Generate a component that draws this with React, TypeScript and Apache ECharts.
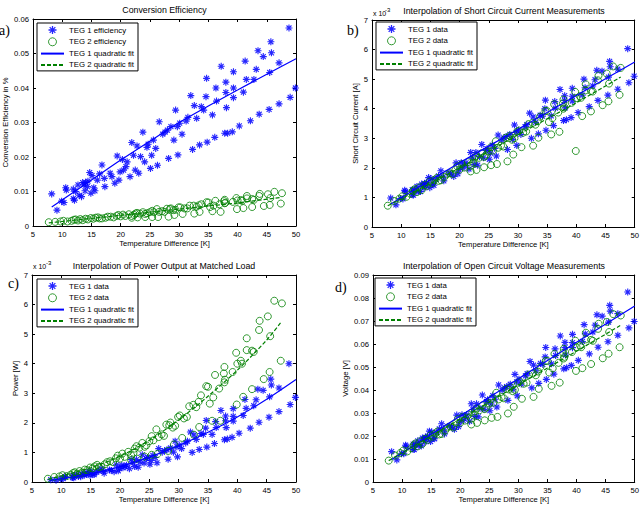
import React, { useEffect, useRef } from 'react';
import * as echarts from 'echarts';

// ---------- TEG 1 measurements ----------
const teg1Temp = [
  8.2, 9.1, 9.9, 10.3, 10.6, 10.7, 11.9, 11.9, 12.1, 12.3,
  12.7, 12.9, 13.3, 13.5, 13.7, 13.9, 14.0, 14.3, 14.4, 14.7,
  14.9, 15.1, 15.4, 15.6, 16.0, 16.4, 16.8, 17.2, 17.3, 18.2,
  18.5, 19.0, 19.4, 19.7, 19.9, 20.3, 20.5, 20.9, 21.1, 21.6,
  21.9, 22.2, 22.5, 22.8, 23.1, 23.4, 23.8, 24.1, 24.5, 24.7,
  25.1, 25.3, 25.6, 26.0, 26.3, 26.6, 27.2, 27.6, 28.0, 28.2,
  28.6, 29.1, 29.4, 29.7, 29.8, 30.1, 30.5, 31.2, 31.5, 32.0,
  32.3, 32.6, 33.0, 33.5, 33.8, 34.2, 34.6, 34.7, 34.8, 35.7,
  36.1, 36.3, 36.4, 37.2, 37.8, 38.0, 38.0, 38.1, 38.3, 39.1,
  39.3, 39.3, 39.3, 40.3, 41.0, 41.3, 41.5, 42.2, 42.8, 43.2,
  43.5, 43.7, 44.4, 45.4, 45.5, 45.7, 45.8, 47.1, 47.1, 48.8, 49.0, 49.9,
];
const teg1Eff = [
  0.0093, 0.0046, 0.0072, 0.0068, 0.0111, 0.0104, 0.0079, 0.0107, 0.0075, 0.0100,
  0.0119, 0.0089, 0.0085, 0.0126, 0.0119, 0.0102, 0.0126, 0.0114, 0.0130, 0.0155,
  0.0095, 0.0146, 0.0111, 0.0102, 0.0133, 0.0151, 0.0177, 0.0138, 0.0114, 0.0153,
  0.0143, 0.0124, 0.0203, 0.0133, 0.0157, 0.0193, 0.0162, 0.0172, 0.0186, 0.0143,
  0.0242, 0.0205, 0.0162, 0.0232, 0.0153, 0.0201, 0.0272, 0.0186, 0.0228, 0.0237,
  0.0167, 0.0205, 0.0249, 0.0225, 0.0176, 0.0302, 0.0266, 0.0272, 0.0278, 0.0196,
  0.0288, 0.0249, 0.0336, 0.0288, 0.0206, 0.0298, 0.0266, 0.0304, 0.0315, 0.0378,
  0.0222, 0.0349, 0.0312, 0.0235, 0.0346, 0.0336, 0.0375, 0.0428, 0.0243, 0.0322,
  0.0257, 0.0400, 0.0362, 0.0463, 0.0269, 0.0417, 0.0387, 0.0343, 0.0269, 0.0273,
  0.0400, 0.0372, 0.0447, 0.0290, 0.0388, 0.0478, 0.0425, 0.0305, 0.0425, 0.0454,
  0.0508, 0.0324, 0.0491, 0.0338, 0.0445, 0.0534, 0.0502, 0.0473, 0.0354, 0.0574, 0.0373, 0.0400,
];
const teg1Isc = [
  0.98, 0.75, 0.96, 0.95, 1.24, 1.20, 1.09, 1.26, 1.08, 1.24,
  1.37, 1.20, 1.20, 1.45, 1.41, 1.32, 1.47, 1.41, 1.51, 1.67,
  1.33, 1.64, 1.45, 1.41, 1.61, 1.73, 1.90, 1.70, 1.56, 1.83,
  1.79, 1.71, 2.17, 1.80, 1.94, 2.17, 2.00, 2.08, 2.17, 1.96,
  2.52, 2.33, 2.11, 2.52, 2.09, 2.38, 2.79, 2.34, 2.59, 2.65,
  2.29, 2.50, 2.77, 2.66, 2.40, 3.11, 2.94, 3.01, 3.06, 2.62,
  3.13, 2.96, 3.45, 3.20, 2.76, 3.28, 3.13, 3.39, 3.46, 3.85,
  3.00, 3.72, 3.54, 3.15, 3.78, 3.75, 4.00, 4.29, 3.27, 3.76,
  3.43, 4.24, 4.02, 4.65, 3.60, 4.44, 4.28, 4.03, 3.63, 3.70,
  4.42, 4.26, 4.69, 3.87, 4.46, 5.00, 4.71, 4.07, 4.77, 4.98,
  5.30, 4.28, 5.27, 4.46, 5.07, 5.60, 5.42, 5.34, 4.66, 6.03, 4.88, 5.10,
];
const teg1Pow = [
  0.08, 0.06, 0.10, 0.11, 0.18, 0.17, 0.15, 0.21, 0.14, 0.20,
  0.25, 0.19, 0.18, 0.27, 0.26, 0.23, 0.28, 0.26, 0.30, 0.36,
  0.22, 0.34, 0.26, 0.25, 0.33, 0.38, 0.45, 0.36, 0.30, 0.41,
  0.39, 0.35, 0.58, 0.38, 0.46, 0.57, 0.48, 0.52, 0.57, 0.45,
  0.76, 0.65, 0.52, 0.76, 0.50, 0.67, 0.92, 0.64, 0.79, 0.83,
  0.60, 0.73, 0.90, 0.83, 0.65, 1.13, 1.01, 1.06, 1.09, 0.77,
  1.15, 1.01, 1.38, 1.19, 0.85, 1.25, 1.13, 1.32, 1.38, 1.69,
  1.00, 1.59, 1.44, 1.10, 1.64, 1.61, 1.82, 2.08, 1.18, 1.61,
  1.30, 2.04, 1.84, 2.42, 1.43, 2.23, 2.07, 1.84, 1.45, 1.51,
  2.22, 2.06, 2.48, 1.65, 2.25, 2.79, 2.49, 1.82, 2.58, 2.78,
  3.14, 2.02, 3.10, 2.19, 2.88, 3.48, 3.28, 3.18, 2.38, 4.00, 2.62, 2.86,
];
const teg1Voc = [
  0.0132, 0.0096, 0.0123, 0.0123, 0.0160, 0.0155, 0.0142, 0.0165, 0.0141, 0.0162,
  0.0179, 0.0158, 0.0157, 0.0191, 0.0186, 0.0174, 0.0194, 0.0187, 0.0200, 0.0221,
  0.0176, 0.0217, 0.0192, 0.0188, 0.0214, 0.0231, 0.0253, 0.0227, 0.0209, 0.0245,
  0.0239, 0.0229, 0.0291, 0.0241, 0.0261, 0.0292, 0.0268, 0.0280, 0.0292, 0.0264,
  0.0340, 0.0315, 0.0285, 0.0340, 0.0283, 0.0321, 0.0378, 0.0316, 0.0350, 0.0358,
  0.0310, 0.0339, 0.0375, 0.0360, 0.0326, 0.0422, 0.0399, 0.0409, 0.0415, 0.0355,
  0.0425, 0.0403, 0.0468, 0.0435, 0.0375, 0.0447, 0.0426, 0.0461, 0.0471, 0.0524,
  0.0409, 0.0508, 0.0483, 0.0429, 0.0516, 0.0511, 0.0544, 0.0585, 0.0446, 0.0514,
  0.0469, 0.0579, 0.0550, 0.0635, 0.0492, 0.0607, 0.0584, 0.0552, 0.0497, 0.0507,
  0.0606, 0.0584, 0.0642, 0.0529, 0.0611, 0.0684, 0.0644, 0.0557, 0.0652, 0.0682,
  0.0727, 0.0586, 0.0721, 0.0610, 0.0695, 0.0768, 0.0743, 0.0732, 0.0638, 0.0826, 0.0670, 0.0698,
];

// ---------- TEG 2 measurements ----------
const teg2Temp = [
  7.7, 8.8, 9.7, 10.2, 10.9, 11.6, 12.0, 12.3, 12.7, 13.1,
  13.5, 14.0, 14.4, 14.9, 15.3, 15.7, 16.1, 16.4, 16.8, 17.4,
  17.8, 18.3, 18.8, 19.3, 19.6, 20.0, 20.4, 20.8, 21.4, 21.9,
  22.3, 22.5, 22.8, 23.3, 23.8, 24.2, 24.5, 25.0, 25.4, 25.7,
  26.2, 26.6, 27.1, 27.5, 27.9, 28.4, 28.6, 29.0, 29.4, 29.9,
  30.2, 30.6, 30.9, 31.4, 31.8, 32.5, 33.0, 33.4, 33.5, 33.8,
  34.7, 35.0, 35.3, 35.9, 36.2, 36.9, 37.1, 37.7, 37.8, 37.8,
  37.9, 39.2, 39.8, 39.9, 40.0, 40.6, 40.8, 41.0, 41.6, 41.6,
  42.5, 42.8, 42.5, 43.8, 43.7, 44.5, 45.2, 45.5, 45.6, 46.3, 47.6, 47.4,
  21.9, 22.9, 24.2, 25.4, 26.4, 28.2, 29.2, 32.6, 35.7,
];
const teg2Eff = [
  0.0011, 0.0012, 0.0013, 0.0015, 0.0013, 0.0015, 0.0018, 0.0019, 0.0016, 0.0020,
  0.0017, 0.0021, 0.0019, 0.0023, 0.0021, 0.0024, 0.0025, 0.0022, 0.0022, 0.0024,
  0.0027, 0.0027, 0.0025, 0.0029, 0.0032, 0.0028, 0.0033, 0.0029, 0.0034, 0.0029,
  0.0032, 0.0036, 0.0038, 0.0036, 0.0040, 0.0035, 0.0037, 0.0040, 0.0044, 0.0040,
  0.0049, 0.0041, 0.0043, 0.0041, 0.0050, 0.0049, 0.0051, 0.0046, 0.0047, 0.0054,
  0.0054, 0.0035, 0.0051, 0.0051, 0.0059, 0.0059, 0.0056, 0.0060, 0.0041, 0.0063,
  0.0069, 0.0068, 0.0055, 0.0059, 0.0073, 0.0063, 0.0041, 0.0072, 0.0076, 0.0066,
  0.0067, 0.0070, 0.0081, 0.0049, 0.0074, 0.0075, 0.0073, 0.0052, 0.0087, 0.0080,
  0.0078, 0.0076, 0.0055, 0.0093, 0.0087, 0.0058, 0.0092, 0.0061, 0.0081, 0.0099, 0.0095, 0.0065,
  0.0024, 0.0025, 0.0026, 0.0026, 0.0026, 0.0027, 0.0032, 0.0036, 0.0043,
];
const teg2Isc = [
  0.72, 0.88, 0.96, 1.04, 1.02, 1.12, 1.22, 1.28, 1.18, 1.34,
  1.25, 1.42, 1.39, 1.54, 1.49, 1.59, 1.66, 1.56, 1.58, 1.69,
  1.78, 1.82, 1.79, 1.94, 2.05, 1.94, 2.13, 2.01, 2.19, 2.07,
  2.17, 2.31, 2.39, 2.34, 2.50, 2.37, 2.42, 2.56, 2.70, 2.58,
  2.90, 2.68, 2.75, 2.72, 3.02, 3.01, 3.08, 2.95, 3.00, 3.23,
  3.26, 2.70, 3.19, 3.23, 3.48, 3.52, 3.46, 3.58, 3.02, 3.73,
  3.93, 3.92, 3.55, 3.68, 4.15, 3.87, 3.22, 4.18, 4.31, 4.00,
  4.05, 4.20, 4.57, 2.57, 4.36, 4.42, 4.37, 3.75, 4.83, 4.62,
  4.60, 4.58, 3.91, 5.12, 4.96, 4.12, 5.19, 4.25, 4.85, 5.43, 5.38, 4.47,
  1.88, 1.93, 2.02, 2.09, 2.13, 2.22, 2.45, 2.75, 3.13,
];
const teg2Pow = [
  0.11, 0.17, 0.19, 0.23, 0.20, 0.25, 0.30, 0.33, 0.28, 0.37,
  0.32, 0.42, 0.40, 0.49, 0.46, 0.53, 0.58, 0.51, 0.52, 0.60,
  0.67, 0.70, 0.67, 0.80, 0.89, 0.79, 0.96, 0.85, 1.02, 0.90,
  0.99, 1.13, 1.21, 1.16, 1.32, 1.19, 1.24, 1.38, 1.55, 1.41,
  1.78, 1.52, 1.61, 1.56, 1.94, 1.92, 2.01, 1.84, 1.90, 2.20,
  2.25, 1.49, 2.15, 2.20, 2.56, 2.61, 2.53, 2.71, 1.86, 2.93,
  3.24, 3.22, 2.65, 2.86, 3.62, 3.16, 2.07, 3.67, 3.89, 3.37,
  3.46, 3.72, 4.37, 2.62, 4.00, 4.10, 4.00, 2.88, 4.86, 4.46,
  4.44, 4.40, 3.14, 5.45, 5.14, 3.48, 5.60, 3.72, 4.93, 6.13, 6.04, 4.10,
  0.74, 0.79, 0.86, 0.92, 0.95, 1.05, 1.27, 1.60, 2.07,
];
const teg2Voc = [
  0.0093, 0.0115, 0.0126, 0.0137, 0.0133, 0.0147, 0.0160, 0.0168, 0.0155, 0.0177,
  0.0166, 0.0188, 0.0183, 0.0203, 0.0197, 0.0211, 0.0220, 0.0207, 0.0209, 0.0224,
  0.0237, 0.0242, 0.0237, 0.0259, 0.0273, 0.0258, 0.0283, 0.0267, 0.0292, 0.0275,
  0.0289, 0.0308, 0.0319, 0.0312, 0.0333, 0.0317, 0.0324, 0.0341, 0.0361, 0.0345,
  0.0388, 0.0359, 0.0369, 0.0364, 0.0405, 0.0402, 0.0412, 0.0395, 0.0401, 0.0432,
  0.0437, 0.0362, 0.0427, 0.0432, 0.0467, 0.0472, 0.0464, 0.0480, 0.0405, 0.0500,
  0.0527, 0.0526, 0.0476, 0.0494, 0.0557, 0.0518, 0.0432, 0.0561, 0.0579, 0.0537,
  0.0544, 0.0565, 0.0614, 0.0483, 0.0586, 0.0593, 0.0586, 0.0495, 0.0649, 0.0620,
  0.0618, 0.0614, 0.0513, 0.0688, 0.0666, 0.0538, 0.0696, 0.0558, 0.0652, 0.0730, 0.0724, 0.0586,
  0.0250, 0.0257, 0.0268, 0.0279, 0.0283, 0.0298, 0.0327, 0.0370, 0.0418,
];

// ---------- Quadratic fit curves ----------
const fitEff1Temp = [8.2, 15, 20, 25, 30, 35, 40, 45, 50];
const fitEff1 = [0.0055, 0.0133, 0.0191, 0.0246, 0.03, 0.0348, 0.0394, 0.044, 0.0485];
const fitEff2Temp = [7.7, 20, 30, 40, 47.5];
const fitEff2 = [0.0009, 0.0031, 0.0049, 0.0067, 0.0083];

const fitIsc1Temp = [8.2, 20, 30, 40, 50];
const fitIsc1 = [0.78, 2.17, 3.3, 4.45, 5.58];
const fitIsc2Temp = [7.7, 20, 30, 40, 47.6];
const fitIsc2 = [0.72, 2.0, 3.12, 4.2, 5.07];

const fitPow1Temp = [8, 15, 20, 25, 30, 35, 40, 45, 50];
const fitPow1 = [0.05, 0.28, 0.52, 0.84, 1.23, 1.68, 2.2, 2.8, 3.47];
const fitPow2Temp = [7.7, 15, 20, 25, 30, 35, 40, 45, 47.5];
const fitPow2 = [0.09, 0.48, 0.87, 1.41, 2.1, 2.9, 3.78, 4.8, 5.42];

const fitVoc1Temp = [8.2, 20, 30, 40, 50];
const fitVoc1 = [0.0098, 0.0287, 0.0449, 0.0608, 0.0765];
const fitVoc2Temp = [7.7, 20, 30, 40, 47.5];
const fitVoc2 = [0.0093, 0.0274, 0.0422, 0.0569, 0.068];

const xTickMin = 5;
const xTickMax = 50;
const xTickStep = 5;

const FONT = '"Liberation Sans", Arial, Helvetica, sans-serif';
const SERIF = '"Liberation Serif", "Times New Roman", serif';
const BLUE = '#0000ff';
const GREEN = '#008000';
const ASTERISK =
  'path://M0 4.2L10 4.2L10 5.8L0 5.8Z M4.2 0L5.8 0L5.8 10L4.2 10Z M2.03 0.89L9.11 7.97L7.97 9.11L0.89 2.03Z M7.97 0.89L9.11 2.03L2.03 9.11L0.89 7.97Z';

const zip = (xs: number[], ys: number[]) => xs.map((x, i) => [x, ys[i]]);

const panels = [
  {
    grid: { left: 33, top: 19, width: 263, height: 207 },
    title: 'Conversion Efficiency', titleX: 164.5, titleTop: 5,
    yMax: 0.06, yStep: 0.01, yName: 'Conversion Efficiency in %', yGap: 24, xGap: 13.5,
    n1: 'TEG 1 efficiency', n2: 'TEG 2 efficiency',
    d1: zip(teg1Temp, teg1Eff), d2: zip(teg2Temp, teg2Eff),
    f1: zip(fitEff1Temp, fitEff1), f2: zip(fitEff2Temp, fitEff2),
    legend: { left: 37, top: 23 },
  },
  {
    grid: { left: 372, top: 20, width: 263, height: 207 },
    title: 'Interpolation of Short Circuit Current Measurements', titleX: 504, titleTop: 6,
    yMax: 7, yStep: 1, yName: 'Short Circuit Current [A]', yGap: 13, xGap: 13.5,
    n1: 'TEG 1 data', n2: 'TEG 2 data',
    d1: zip(teg1Temp, teg1Isc), d2: zip(teg2Temp, teg2Isc),
    f1: zip(fitIsc1Temp, fitIsc1), f2: zip(fitIsc2Temp, fitIsc2),
    legend: { left: 376, top: 22 },
  },
  {
    grid: { left: 32, top: 275, width: 264, height: 207 },
    title: 'Interpolation of Power Output at Matched Load', titleX: 164, titleTop: 261,
    yMax: 7, yStep: 1, yName: 'Power [W]', yGap: 13, xGap: 13,
    n1: 'TEG 1 data', n2: 'TEG 2 data',
    d1: zip(teg1Temp, teg1Pow), d2: zip(teg2Temp, teg2Pow),
    f1: zip(fitPow1Temp, fitPow1), f2: zip(fitPow2Temp, fitPow2),
    legend: { left: 37, top: 279 },
  },
  {
    grid: { left: 373, top: 275, width: 262, height: 207 },
    title: 'Interpolation of Open Circuit Voltage Measurements', titleX: 504, titleTop: 261,
    yMax: 0.09, yStep: 0.01, yName: 'Voltage [V]', yGap: 24, xGap: 13,
    n1: 'TEG 1 data', n2: 'TEG 2 data',
    d1: zip(teg1Temp, teg1Voc), d2: zip(teg2Temp, teg2Voc),
    f1: zip(fitVoc1Temp, fitVoc1), f2: zip(fitVoc2Temp, fitVoc2),
    legend: { left: 375, top: 278 },
  },
];

function buildOption() {
  const grid: any[] = [];
  const xAxis: any[] = [];
  const yAxis: any[] = [];
  const series: any[] = [];
  const legend: any[] = [];
  const title: any[] = [];
  const axisCommon = {
    axisLine: { show: true, onZero: false, lineStyle: { color: '#000', width: 1 } },
    axisTick: { show: true, inside: true, length: 3, lineStyle: { color: '#000', width: 1 } },
    splitLine: { show: false },
  };
  const labelStyle = { fontFamily: FONT, fontSize: 7.7, color: '#000', margin: 4 };
  const nameStyle = { fontFamily: FONT, fontSize: 7.6, color: '#000' };

  panels.forEach((p, k) => {
    grid.push({ ...p.grid, show: false });
    xAxis.push({
      type: 'value', gridIndex: k, position: 'bottom',
      min: xTickMin, max: xTickMax, interval: xTickStep,
      name: 'Temperature Difference [K]', nameLocation: 'middle', nameGap: p.xGap,
      nameTextStyle: nameStyle, axisLabel: labelStyle, ...axisCommon,
    });
    xAxis.push({
      type: 'value', gridIndex: k, position: 'top',
      min: xTickMin, max: xTickMax, interval: xTickStep,
      axisLabel: { show: false }, ...axisCommon,
    });
    yAxis.push({
      type: 'value', gridIndex: k, position: 'left',
      min: 0, max: p.yMax, interval: p.yStep,
      name: p.yName, nameLocation: 'middle', nameGap: p.yGap,
      nameTextStyle: nameStyle, axisLabel: labelStyle, ...axisCommon,
    });
    yAxis.push({
      type: 'value', gridIndex: k, position: 'right',
      min: 0, max: p.yMax, interval: p.yStep,
      axisLabel: { show: false }, ...axisCommon,
    });
    const xi = 2 * k;
    series.push({
      type: 'scatter', name: p.n1, xAxisIndex: xi, yAxisIndex: xi, data: p.d1,
      symbol: ASTERISK, symbolSize: 7,
      itemStyle: { color: BLUE, opacity: 0.85 },
    });
    series.push({
      type: 'scatter', name: p.n2, xAxisIndex: xi, yAxisIndex: xi, data: p.d2,
      symbol: 'circle', symbolSize: 7,
      itemStyle: { color: 'rgba(0,0,0,0)', borderColor: GREEN, borderWidth: 1 },
    });
    series.push({
      type: 'line', name: 'TEG 1 quadratic fit', xAxisIndex: xi, yAxisIndex: xi, data: p.f1,
      symbol: 'none', showSymbol: false, smooth: 0.3,
      lineStyle: { color: BLUE, width: 1.2 }, itemStyle: { color: BLUE, opacity: 0 },
    });
    series.push({
      type: 'line', name: 'TEG 2 quadratic fit', xAxisIndex: xi, yAxisIndex: xi, data: p.f2,
      symbol: 'none', showSymbol: false, smooth: 0.3,
      lineStyle: { color: GREEN, width: 1.2, type: [4, 2] }, itemStyle: { color: GREEN, opacity: 0 },
    });
    legend.push({
      ...p.legend, orient: 'vertical', selectedMode: false,
      data: [
        { name: p.n1, itemStyle: { borderWidth: 0 } },
        { name: p.n2, itemStyle: { borderWidth: 1 } },
        { name: 'TEG 1 quadratic fit', itemStyle: { opacity: 0 } },
        { name: 'TEG 2 quadratic fit', itemStyle: { opacity: 0 } },
      ],
      itemWidth: 23, itemHeight: 8, itemGap: 3.3,
      padding: [3, 4, 2, 3],
      backgroundColor: '#fff', borderColor: '#000', borderWidth: 1, borderRadius: 0,
      textStyle: { fontFamily: FONT, fontSize: 7.8, color: '#000' },
    });
    title.push({
      text: p.title, left: p.titleX, top: p.titleTop, textAlign: 'center', padding: 0,
      textStyle: { fontFamily: FONT, fontSize: 8.8, fontWeight: 'normal', color: '#000' },
    });
  });

  const graphic: any[] = [
    { type: 'text', left: -1, top: 23, style: { text: 'a)', font: `14px ${SERIF}`, fill: '#000' } },
    { type: 'text', left: 347, top: 23, style: { text: 'b)', font: `14px ${SERIF}`, fill: '#000' } },
    { type: 'text', left: 8, top: 276, style: { text: 'c)', font: `14px ${SERIF}`, fill: '#000' } },
    { type: 'text', left: 335, top: 280, style: { text: 'd)', font: `14px ${SERIF}`, fill: '#000' } },
    { type: 'text', left: 373, top: 10, style: { text: 'x 10', font: `7px ${FONT}`, fill: '#000' } },
    { type: 'text', left: 385, top: 7, style: { text: '-3', font: `6px ${FONT}`, fill: '#000' } },
    { type: 'text', left: 33, top: 263, style: { text: 'x 10', font: `7px ${FONT}`, fill: '#000' } },
    { type: 'text', left: 46, top: 260, style: { text: '-3', font: `6px ${FONT}`, fill: '#000' } },
  ];

  return {
    animation: false,
    backgroundColor: '#fff',
    title, grid, xAxis, yAxis, series, legend, graphic,
  };
}

export default function App() {
  const ref = useRef<HTMLDivElement>(null);
  useEffect(() => {
    if (!ref.current) return;
    const chart = echarts.init(ref.current, undefined, { renderer: 'svg' });
    chart.setOption(buildOption() as any);
    return () => chart.dispose();
  }, []);
  return (
    <div
      ref={ref}
      style={{ position: 'absolute', left: 0, top: 0, width: 642, height: 520, background: '#fff' }}
    />
  );
}
